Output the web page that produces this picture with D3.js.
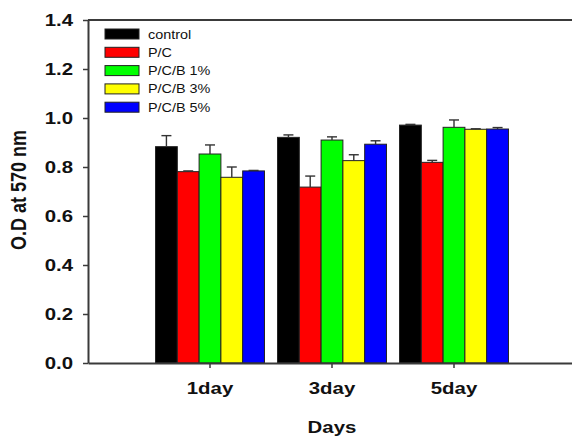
<!DOCTYPE html>
<html>
<head>
<meta charset="utf-8">
<script src="https://cdn.jsdelivr.net/npm/d3@7"></script>
<style>
  html, body { margin: 0; padding: 0; background: #fff; }
  svg { display: block; font-family: "Liberation Sans", Arial, sans-serif; }
</style>
</head>
<body>
<svg id="chart" width="572" height="438"></svg>
<script>
// Absorbance (O.D at 570 nm) by culture day for each scaffold group
const days = ["1day", "3day", "5day"];
const groups = ["control", "P/C", "P/C/B 1%", "P/C/B 3%", "P/C/B 5%"];
const groupColors = ["#000000", "#ff0000", "#00ff00", "#ffff00", "#0000ff"];
const meanControl = [0.883, 0.921, 0.971];
const meanPC      = [0.781, 0.718, 0.819];
const meanPCB1    = [0.853, 0.910, 0.962];
const meanPCB3    = [0.758, 0.826, 0.954];
const meanPCB5    = [0.784, 0.893, 0.955];
const errControl  = [0.045, 0.010, 0.003];
const errPC       = [0.003, 0.045, 0.008];
const errPCB1     = [0.037, 0.013, 0.030];
const errPCB3     = [0.042, 0.024, 0.002];
const errPCB5     = [0.002, 0.014, 0.006];
const yTicks = [0.0, 0.2, 0.4, 0.6, 0.8, 1.0, 1.2, 1.4];

const means = [meanControl, meanPC, meanPCB1, meanPCB3, meanPCB5];
const errs = [errControl, errPC, errPCB1, errPCB3, errPCB5];

const svg = d3.select("#chart");
const plotLeft = 88, plotRight = 576, plotTop = 20, plotBottom = 363;
const axisColor = "#3a3a3a";
const stretch = 1.2; // wide lettering

const x = d3.scaleBand().domain(days).range([plotLeft, plotRight])
  .paddingInner(0.107).paddingOuter(0.5535);
const xi = d3.scaleBand().domain(groups).range([0, x.bandwidth()]);
const y = d3.scaleLinear().domain([0, 1.4]).range([plotBottom, plotTop]);
const color = d3.scaleOrdinal().domain(groups).range(groupColors);

const rows = [];
groups.forEach((g, gi) => days.forEach((d, di) => {
  rows.push({ day: d, group: g, value: means[gi][di], err: errs[gi][di] });
}));

// bars
svg.append("g").selectAll("rect").data(rows).join("rect")
  .attr("x", d => x(d.day) + xi(d.group))
  .attr("y", d => y(d.value))
  .attr("width", xi.bandwidth())
  .attr("height", d => y(0) - y(d.value))
  .attr("fill", d => color(d.group))
  .attr("stroke", "#222")
  .attr("stroke-width", 1);

// upper error bars
const eb = svg.append("g").attr("stroke", "#333").attr("stroke-width", 1.4);
rows.forEach(d => {
  const cx = x(d.day) + xi(d.group) + xi.bandwidth() / 2;
  eb.append("line").attr("x1", cx).attr("x2", cx)
    .attr("y1", y(d.value)).attr("y2", y(d.value + d.err));
  eb.append("line").attr("x1", cx - 5).attr("x2", cx + 5)
    .attr("y1", y(d.value + d.err)).attr("y2", y(d.value + d.err));
});

// frame line along the top
svg.append("line").attr("x1", plotLeft).attr("x2", 572).attr("y1", plotTop).attr("y2", plotTop)
  .attr("stroke", axisColor).attr("stroke-width", 2);

// y axis
const yAxis = svg.append("g").attr("transform", `translate(${plotLeft},0)`)
  .call(d3.axisLeft(y).tickValues(yTicks).tickFormat(d3.format(".1f")).tickSize(5).tickSizeOuter(0).tickPadding(15));
yAxis.select(".domain").attr("stroke", axisColor).attr("stroke-width", 2);
yAxis.selectAll(".tick line").attr("stroke", axisColor).attr("stroke-width", 1.5);
yAxis.selectAll(".tick text")
  .attr("fill", "#111").attr("font-size", 17).attr("font-weight", "bold")
  .attr("font-family", "'Liberation Sans', Arial, sans-serif")
  .attr("x", -15 / stretch).attr("transform", `scale(${stretch},1)`);

// x axis
const xAxis = svg.append("g").attr("transform", `translate(0,${plotBottom})`)
  .call(d3.axisBottom(x).tickSize(5).tickSizeOuter(0).tickPadding(14));
xAxis.select(".domain").attr("stroke", axisColor).attr("stroke-width", 2);
xAxis.selectAll(".tick line").attr("stroke", axisColor).attr("stroke-width", 1.5);
xAxis.selectAll(".tick text")
  .attr("fill", "#111").attr("font-size", 17).attr("font-weight", "bold")
  .attr("font-family", "'Liberation Sans', Arial, sans-serif")
  .attr("transform", `scale(${stretch},1)`)
  .attr("x", 0);
// keep the labels centred under their ticks after the horizontal stretch
xAxis.selectAll(".tick").each(function(d) {
  const cx = x(d) + x.bandwidth() / 2;
  d3.select(this).attr("transform", `translate(${cx},0)`);
});

// axis titles
svg.append("text")
  .attr("transform", `translate(332,433) scale(${stretch},1)`)
  .attr("text-anchor", "middle").attr("font-size", 17).attr("font-weight", "bold")
  .attr("fill", "#111").text("Days");
svg.append("text")
  .attr("transform", `translate(26,190) rotate(-90) scale(1,${stretch})`)
  .attr("text-anchor", "middle").attr("font-size", 18).attr("font-weight", "bold")
  .attr("fill", "#111").text("O.D at 570 nm");

// legend
const legend = svg.append("g").attr("transform", "translate(105,29)");
groups.forEach((g, i) => {
  const row = legend.append("g").attr("transform", `translate(0,${i * 18.3})`);
  row.append("rect").attr("width", 34).attr("height", 10)
    .attr("fill", color(g)).attr("stroke", "#222").attr("stroke-width", 1);
  row.append("text").attr("transform", `translate(43,9.5) scale(${stretch},1)`)
    .attr("font-size", 12).attr("fill", "#111").text(g);
});
</script>
</body>
</html>
